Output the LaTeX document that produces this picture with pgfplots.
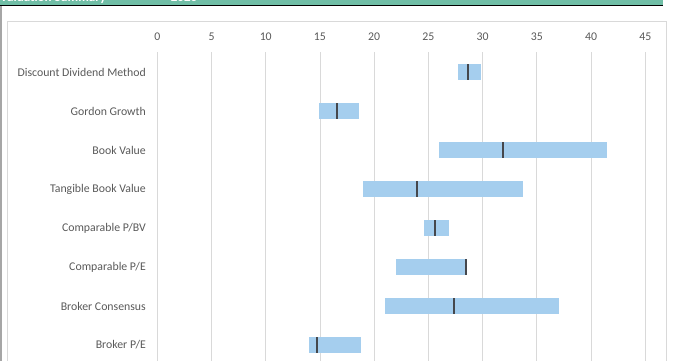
\documentclass[border=0pt]{standalone}
\usepackage{pgfplots}
\usepackage{pgfplotstable}
\usepackage{fontspec}
\setmainfont{Carlito}
\pgfplotsset{compat=1.18}
\definecolor{barblue}{HTML}{A5CEEE}
\definecolor{meddark}{HTML}{45474C}
\definecolor{gridgray}{HTML}{D9D9D9}
\definecolor{textgray}{HTML}{595959}
\definecolor{headgreen}{HTML}{70BEA6}
\pgfplotstableread{
row low med high
0 27.7 28.65 29.85
1 14.9 16.55 18.6
2 26.0 31.9 41.45
3 18.95 23.95 33.75
4 24.6 25.6 26.9
5 22.0 28.45 28.6
6 21.0 27.35 37.05
7 14.0 14.7 18.8
}\valdata
\begin{document}
\begin{tikzpicture}
% header band
\fill[headgreen] (0,0) rectangle (663bp,-4.6bp);
\draw[black, line width=1.3bp] (0,-5.2bp) -- (663bp,-5.2bp);
\node[anchor=base west, inner sep=0pt, text=white, font=\fontsize{13bp}{15bp}\selectfont\bfseries] at (0,-1.8bp) {Valuation Summary};
\node[anchor=base west, inner sep=0pt, text=white, font=\fontsize{13bp}{15bp}\selectfont\bfseries] at (170.7bp,-1.8bp) {2020};
% sheet edge line
\fill[black!35] (0,-5.8bp) rectangle (1.5bp,-361bp);
% chart border
\draw[gridgray, line width=0.8bp] (7.3bp,-21.7bp) rectangle (666.7bp,-400bp);
\begin{axis}[
  at={(157.3bp,-52bp)}, anchor=north west,
  scale only axis, width=488bp, height=309bp,
  xmin=0, xmax=45, ymin=-0.513, ymax=7.41,
  y dir=reverse,
  axis line style={draw=none},
  major tick length=0pt,
  xtick={0,5,...,45},
  xmajorgrids,
  grid style={gridgray, line width=0.8bp},
  xticklabel pos=right,
  /pgf/number format/assume math mode=true,
  xticklabel style={anchor=base, inner sep=0pt, yshift=12bp, text=textgray, font=\fontsize{11.8bp}{14bp}\selectfont},
  ytick={0,...,7},
  yticklabels={Discount Dividend Method, Gordon Growth\hspace{3bp}, Book Value, Tangible Book Value, Comparable P/BV, Comparable P/E, Broker Consensus, Broker P/E},
  yticklabel style={anchor=east, inner sep=0pt, xshift=-11.3bp, text=textgray, font=\fontsize{11.8bp}{14bp}\selectfont},
  clip=false,
]
\addplot[draw=none, mark=none,
  error bars/.cd, x dir=both, x explicit, error mark=none,
  error bar style={line width=15.5bp, barblue}]
  table[x=med, y=row,
        x error plus expr=\thisrow{high}-\thisrow{med},
        x error minus expr=\thisrow{med}-\thisrow{low}] {\valdata};
\addplot[only marks, mark=|, mark size=7.75bp,
  mark options={line width=2.4bp, meddark}]
  table[x=med, y=row] {\valdata};
\end{axis}
\pgfresetboundingbox
\useasboundingbox (0,-361bp) rectangle (674bp,0);
\end{tikzpicture}
\end{document}
